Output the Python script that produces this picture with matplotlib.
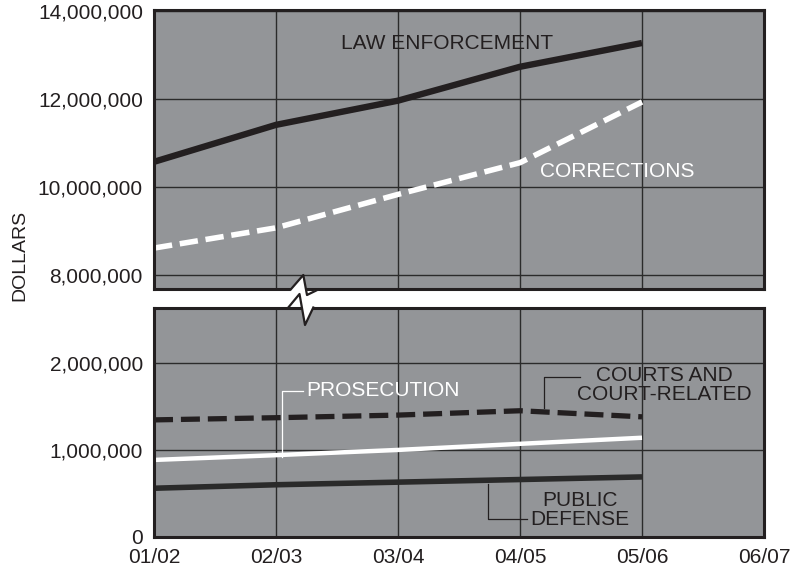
import matplotlib
matplotlib.use("Agg")
import matplotlib.pyplot as plt
from matplotlib.patches import Polygon
from matplotlib.lines import Line2D

plt.rcParams['font.family'] = ['Liberation Sans', 'DejaVu Sans']

years = ["01/02", "02/03", "03/04", "04/05", "05/06", "06/07"]
law_enforcement = [10570000, 11410000, 11960000, 12730000, 13270000]
corrections = [8610000, 9070000, 9830000, 10550000, 11930000]
courts = [1345000, 1370000, 1400000, 1450000, 1380000]
prosecution = [885000, 940000, 1000000, 1070000, 1140000]
public_defense = [560000, 600000, 630000, 660000, 690000]

top_ticks = [8000000, 10000000, 12000000, 14000000]
bottom_ticks = [0, 1000000, 2000000]

BG = "#939598"
INK = "#231f20"
FS = 15

W, H = 798, 569
fig = plt.figure(figsize=(W / 100, H / 100), dpi=100)

def px(x, y):
    return (x / W, 1 - y / H)

ax_top = fig.add_axes([154 / W, 1 - 289 / H, 610 / W, 279 / H])
ax_bot = fig.add_axes([154 / W, 1 - 537 / H, 610 / W, 229 / H])

x = list(range(len(law_enforcement)))

for ax in (ax_top, ax_bot):
    ax.set_facecolor(BG)
    ax.set_xlim(0, len(years) - 1)
    ax.set_xticks(range(len(years)))
    ax.grid(True, color="#2b2b2b", linewidth=1.0)
    ax.set_axisbelow(True)
    ax.tick_params(length=0, labelsize=FS, colors=INK, pad=8)
    for s in ax.spines.values():
        s.set_linewidth(2.2)
        s.set_color("#231f20")

fmt = lambda v: f"{v:,.0f}"

# upper panel: law enforcement and corrections
ax_top.set_ylim(7680000, 14020000)
ax_top.set_yticks(top_ticks)
ax_top.set_yticklabels([fmt(v) for v in top_ticks])
ax_top.set_xticklabels([])
ax_top.plot(x, law_enforcement, color=INK, lw=4.6, solid_capstyle="butt")
ax_top.plot(x, corrections, color="white", lw=4.0, dashes=(3.3, 1.4),
            dash_capstyle="butt")
ax_top.text(2.40, 13270000, "LAW ENFORCEMENT", fontsize=FS, color=INK,
            ha="center", va="center")
ax_top.text(3.80, 10340000, "CORRECTIONS", fontsize=FS, color="white",
            ha="center", va="center")

# lower panel: courts, prosecution, public defense
ax_bot.set_ylim(0, 2630000)
ax_bot.set_yticks(bottom_ticks)
ax_bot.set_yticklabels([fmt(v) for v in bottom_ticks])
ax_bot.set_xticklabels(years)
ax_bot.plot(x, courts, color=INK, lw=3.8, dashes=(3.6, 1.5),
            dash_capstyle="butt")
ax_bot.plot(x, prosecution, color="white", lw=3.2, solid_capstyle="butt")
ax_bot.plot(x, public_defense, color="#2a2a2a", lw=4.0, solid_capstyle="butt")

ax_bot.text(1.25, 1680000, "PROSECUTION", fontsize=FS, color="white",
            ha="left", va="center")
ax_bot.plot([1.22, 1.05, 1.05], [1680000, 1680000, 920000], color="white", lw=0.9)

ax_bot.text(4.18, 1747000, "COURTS AND\nCOURT-RELATED", fontsize=FS, color=INK,
            ha="center", va="center", linespacing=1.0)
ax_bot.plot([3.49, 3.20, 3.20], [1840000, 1840000, 1480000], color=INK, lw=0.9)

ax_bot.text(3.49, 310000, "PUBLIC\nDEFENSE", fontsize=FS, color=INK,
            ha="center", va="center", linespacing=0.95)
ax_bot.plot([2.74, 2.74, 3.06], [610000, 207000, 207000], color=INK, lw=0.9)

# axis break mark between the panels
fill = [px(290.7, 289.5), px(303.3, 275), px(307, 293), px(318.3, 289.5),
        px(313.3, 307.5), px(305, 325), px(300, 294), px(288.3, 307.5)]
fig.patches.append(Polygon(fill, closed=True, transform=fig.transFigure,
                           facecolor="white", edgecolor="none", zorder=5))
upper = [px(290.7, 289.5), px(303.3, 275), px(307, 295), px(318.3, 289.5)]
lower = [px(288.3, 307.5), px(299.5, 294), px(305, 325), px(313.3, 307.5)]
for pts in (upper, lower):
    fig.lines.append(Line2D([p[0] for p in pts], [p[1] for p in pts],
                            transform=fig.transFigure, color=INK, lw=1.6,
                            zorder=6))

fig.text(20 / W, 1 - 255 / H, "DOLLARS", rotation=90, fontsize=FS - 1,
         color=INK, ha="center", va="center")

fig.savefig("out.png", dpi=100)
